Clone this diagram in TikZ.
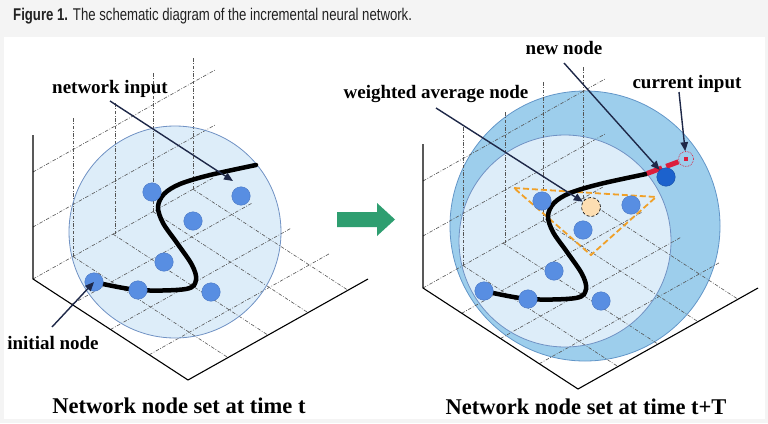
\documentclass[tikz,border=0pt]{standalone}
\usepackage{fontspec}
\setmainfont{Liberation Serif}
\setsansfont{Liberation Sans}
\usetikzlibrary{arrows.meta}
\definecolor{pagegray}{RGB}{244,244,244}
\definecolor{dotblue}{RGB}{88,142,226}
\definecolor{dotedge}{RGB}{72,118,196}
\definecolor{newblue}{RGB}{28,98,205}
\definecolor{lightfill}{RGB}{221,237,249}
\definecolor{lightedge}{RGB}{112,146,196}
\definecolor{ringfill}{RGB}{157,206,236}
\definecolor{ringedge}{RGB}{98,150,200}
\definecolor{navy}{RGB}{30,40,72}
\definecolor{gridgray}{RGB}{85,85,85}
\definecolor{arrowgreen}{RGB}{46,158,112}
\definecolor{avgorange}{RGB}{253,222,178}
\definecolor{triorange}{RGB}{240,160,40}
\definecolor{inputred}{RGB}{220,30,60}
\definecolor{captiongray}{RGB}{34,34,34}
\tikzset{
  gridline/.style={gridgray, line width=0.6pt, dash pattern=on 3.5pt off 1.6pt on 0.8pt off 1.6pt},
  axisline/.style={black, line width=1.1pt},
  dotnode/.style={circle, fill=dotblue, draw=dotedge, line width=0.4pt, minimum size=18.5pt, inner sep=0pt},
  lbl/.style={font=\fontsize{19}{21}\selectfont\bfseries, inner sep=0pt},
  paneltitle/.style={font=\fontsize{22.5}{25}\selectfont\bfseries, inner sep=0pt},
  captext/.style={font=\sffamily\fontsize{17}{19}\selectfont, text=captiongray, inner sep=0pt},
  pointer/.style={navy, line width=1.4pt, -{Triangle[length=9pt,width=7.5pt]}},
  netcurve/.style={black, line width=4.5pt, line cap=round},
  avgtri/.style={triorange, line width=1.8pt, dash pattern=on 6pt off 3pt},
  reddash/.style={inputred, line width=5pt, dash pattern=on 16pt off 4.5pt on 13pt off 100pt},
  inputmark/.style={circle, draw=inputred, line width=0.7pt, densely dotted, minimum size=15pt, inner sep=0pt}
}
\newcommand\panelgrid{%
  \foreach \v in {0.2222,0.4444,0.6667,0.8889}{%
    \draw[gridline] ({33+180*\v},{279-101*\v}) -- ({188+180*\v},{380-101*\v});}
  \foreach \u in {0,0.25,0.5,0.75}{%
    \draw[gridline] ({33+155*\u},{279+101*\u}) -- ({213+155*\u},{178+101*\u});}
  \foreach \h in {52,107}{%
    \draw[gridline] (33,{279-\h}) -- (215,{177-\h});}
  \draw[gridline] (73,256.6) -- (73,118);
  \draw[gridline] (115,234) -- (115,103);
  \draw[gridline] (153,211.7) -- (153,72);
  \draw[gridline] (193,189) -- (193,58);
  \draw[axisline] (33,135) -- (33,279) -- (188,380) -- (368,279);
}
\newcommand\netpath{%
  \draw[netcurve] plot[smooth, tension=0.55] coordinates {(94,282) (138,290) (186,289) (196,280) (192,265) (177,243) (163,223) (158,207) (164,194) (180,184) (210,175) (256,165)};
}
\begin{document}
\begin{tikzpicture}[x=1pt,y=-1pt]
\useasboundingbox (0,0) rectangle (768,423);
\fill[pagegray] (0,0) rectangle (768,423);
\fill[white] (4,37) rectangle (765,419);
\node[captext, anchor=base west] (cap) at (13,20) {\scalebox{0.775}[1]{\textbf{Figure 1.} The schematic diagram of the incremental neural network.}};

% ---------- left panel ----------
\fill[lightfill] (175,232) circle[radius=106pt];
\panelgrid
\draw[lightedge, line width=0.8pt] (175,232) circle[radius=106pt];
\netpath
\node[dotnode] (L1) at (94,282) {};
\node[dotnode] (L2) at (138,290) {};
\node[dotnode] (L3) at (211,292) {};
\node[dotnode] (L4) at (164,262) {};
\node[dotnode] (L5) at (193,221) {};
\node[dotnode] (L6) at (152,192) {};
\node[dotnode] (L7) at (241,196) {};
\node[lbl, anchor=base] (lNI) at (110,93) {network input};
\coordinate (lNIs) at (110,101);
\coordinate (lNIt) at (233,181);
\draw[pointer] (lNIs) -- (lNIt);
\node[lbl, anchor=base] (lIN) at (53,349) {initial node};
\coordinate (lINs) at (52,327);
\draw[pointer] (lINs) -- (L1.center);
\node[paneltitle, anchor=base] (lT) at (179,413) {Network node set at time t};

% ---------- transition arrow ----------
\fill[arrowgreen] (337,212) -- (377,212) -- (377,203) -- (395,219.5) -- (377,236) -- (377,227) -- (337,227) -- cycle;

% ---------- right panel ----------
\draw[ringedge, fill=ringfill, line width=0.8pt] (585,226) circle[radius=135pt];
\fill[lightfill] (565,241) circle[radius=106pt];
\begin{scope}[shift={(390,9)}]
  \panelgrid
\end{scope}
\draw[lightedge, line width=0.8pt] (565,241) circle[radius=106pt];
\draw[avgtri] (514,188) -- (656,197) -- (591,255) -- cycle;
\begin{scope}[shift={(390,9)}]
  \netpath
\end{scope}
\coordinate (rEnd) at (647,173.5);
\node[inputmark] (CI) at (686,159) {};
\fill[inputred] (684,157) rectangle (688,161);
\draw[reddash] (rEnd) -- (CI);
\node[dotnode] (R1) at (484,291) {};
\node[dotnode] (R2) at (528,299) {};
\node[dotnode] (R3) at (601,301) {};
\node[dotnode] (R4) at (554,271) {};
\node[dotnode] (R5) at (583,230) {};
\node[dotnode] (R6) at (542,201) {};
\node[dotnode] (R7) at (631,205) {};
\node[dotnode, fill=newblue, draw=newblue!80!black] (NN) at (666,177) {};
\node[circle, fill=avgorange, draw=black, line width=0.6pt, densely dashed, minimum size=19pt, inner sep=0pt] (WA) at (591,207) {};

\node[lbl, anchor=base] (rWA) at (436,98) {weighted average node};
\coordinate (rWAs) at (436,108);
\draw[pointer] (rWAs) -- (WA);
\node[lbl, anchor=base] (rNN) at (564,54) {new node};
\coordinate (rNNs) at (564,63);
\draw[pointer] (rNNs) -- (NN);
\node[lbl, anchor=base] (rCI) at (687,88) {current input};
\coordinate (rCIs) at (679,92);
\draw[pointer] (rCIs) -- (CI);
\node[paneltitle, anchor=base] (rT) at (586,414) {Network node set at time t+T};
\end{tikzpicture}
\end{document}
